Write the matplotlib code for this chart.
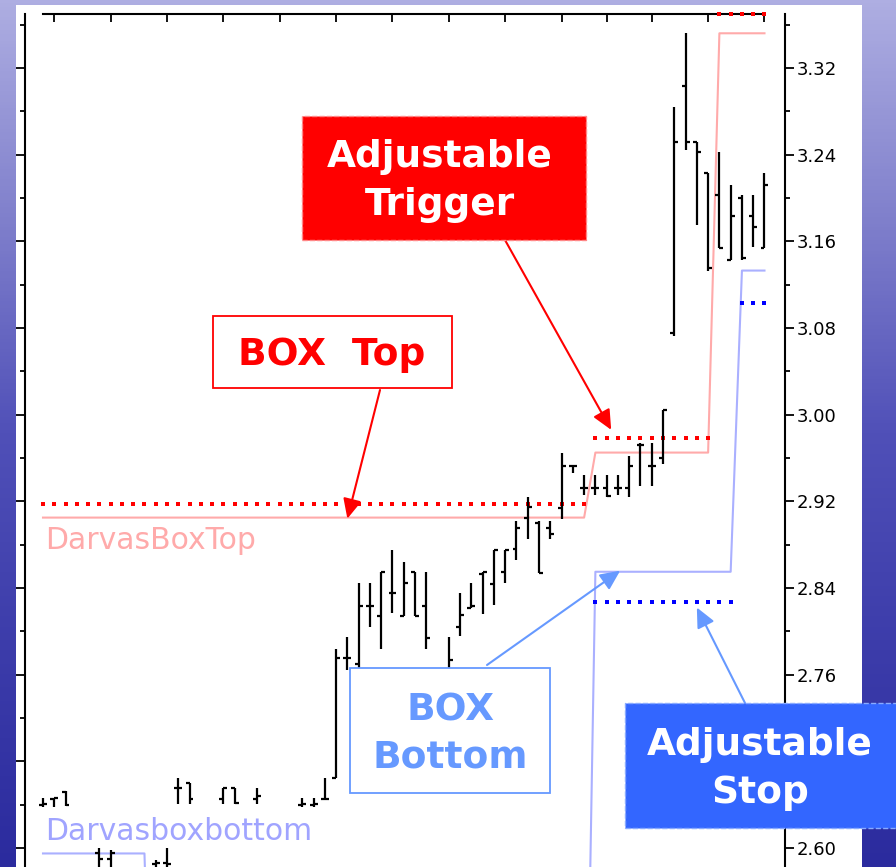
import numpy as np
import matplotlib
matplotlib.use('Agg')
import matplotlib.pyplot as plt
from matplotlib.patches import Rectangle
from matplotlib.colors import LinearSegmentedColormap

W, H = 896, 867

# OHLC bars, one per trading day
opens = [2.640, 2.645, 2.652, 2.570, 2.565, 2.595, 2.590, 2.570, 2.565, 2.570,
         2.585, 2.586, 2.655, 2.660, 2.570, 2.570, 2.645, 2.655, 2.570, 2.645,
         2.570, 2.570, 2.572, 2.640, 2.640, 2.645, 2.665, 2.775, 2.770, 2.823,
         2.814, 2.835, 2.814, 2.855, 2.823, 2.755, 2.750, 2.804, 2.822, 2.853,
         2.844, 2.855, 2.876, 2.905, 2.900, 2.895, 2.914, 2.953, 2.932, 2.932,
         2.932, 2.932, 2.932, 2.972, 2.953, 2.960, 3.075, 3.303, 3.252, 3.223,
         3.203, 3.143, 3.200, 3.183, 3.154]
highs = [2.646, 2.646, 2.653, 2.575, 2.572, 2.600, 2.598, 2.578, 2.575, 2.578,
         2.589, 2.600, 2.665, 2.660, 2.578, 2.575, 2.655, 2.655, 2.578, 2.655,
         2.575, 2.575, 2.578, 2.646, 2.646, 2.665, 2.784, 2.795, 2.845, 2.845,
         2.855, 2.875, 2.864, 2.855, 2.855, 2.762, 2.795, 2.835, 2.845, 2.855,
         2.875, 2.875, 2.902, 2.924, 2.902, 2.902, 2.965, 2.953, 2.944, 2.944,
         2.944, 2.944, 2.962, 2.974, 2.974, 3.004, 3.284, 3.352, 3.252, 3.223,
         3.242, 3.212, 3.203, 3.203, 3.223]
lows = [2.638, 2.638, 2.639, 2.555, 2.550, 2.575, 2.575, 2.560, 2.555, 2.560,
        2.570, 2.570, 2.641, 2.641, 2.560, 2.560, 2.641, 2.641, 2.560, 2.641,
        2.560, 2.560, 2.560, 2.638, 2.638, 2.644, 2.665, 2.764, 2.760, 2.804,
        2.784, 2.817, 2.814, 2.814, 2.784, 2.735, 2.745, 2.796, 2.822, 2.816,
        2.824, 2.845, 2.866, 2.885, 2.854, 2.885, 2.904, 2.946, 2.926, 2.926,
        2.924, 2.926, 2.924, 2.934, 2.934, 2.954, 3.073, 3.244, 3.175, 3.133,
        3.154, 3.143, 3.143, 3.155, 3.154]
closes = [2.641, 2.646, 2.640, 2.560, 2.560, 2.590, 2.595, 2.565, 2.570, 2.572,
          2.586, 2.585, 2.655, 2.645, 2.575, 2.570, 2.655, 2.642, 2.575, 2.648,
          2.570, 2.572, 2.575, 2.641, 2.641, 2.645, 2.775, 2.775, 2.823, 2.823,
          2.855, 2.835, 2.845, 2.814, 2.794, 2.740, 2.774, 2.815, 2.823, 2.855,
          2.875, 2.875, 2.895, 2.915, 2.854, 2.890, 2.953, 2.953, 2.932, 2.932,
          2.925, 2.932, 2.953, 2.972, 2.953, 3.004, 3.252, 3.252, 3.242, 3.135,
          3.154, 3.183, 3.145, 3.173, 3.212]

# Darvas indicator values per bar
box_top = [2.905] * 49 + [2.965] * 11 + [3.352] * 5
box_bottom = [2.595] * 10 + [2.25] * 39 + [2.855] * 13 + [3.133] * 3
trigger = [2.918] * 49 + [2.978] * 11 + [3.370] * 5
stop = [np.nan] * 49 + [2.827] * 13 + [3.103] * 3

y_ticks = [2.60, 2.68, 2.76, 2.84, 2.92, 3.00, 3.08, 3.16, 3.24, 3.32]
y_labels = ['2.60', '', '2.76', '2.84', '2.92', '3.00', '3.08', '3.16', '3.24', '3.32']
y_minor = [2.64, 2.72, 2.80, 2.88, 2.96, 3.04, 3.12, 3.20, 3.28, 3.36]
week_ticks = [1, 6, 11, 16, 21, 26, 31, 36, 41, 46, 50, 54, 59, 64]

idx = np.arange(len(opens))

fig = plt.figure(figsize=(W / 100, H / 100), dpi=100)

# slide background + white chart panel
bg = fig.add_axes([0, 0, 1, 1], zorder=-10)
bg.axis('off')
cmap = LinearSegmentedColormap.from_list(
    'slide', ['#aeaee2', '#8080cc', '#5050b8', '#3c3caa', '#2b2b9e'])
bg.imshow(np.linspace(0, 1, 256).reshape(-1, 1), aspect='auto', cmap=cmap,
          extent=[0, 1, 0, 1])
bg.set_xlim(0, 1)
bg.set_ylim(0, 1)
bg.add_patch(Rectangle((16 / W, 0), (862 - 16) / W, (867 - 5) / H,
                       facecolor='white', edgecolor='none', transform=bg.transAxes))

ax = fig.add_axes([25 / W, 0, (785 - 25) / W, (867 - 14) / H])
ax.set_facecolor('none')
ax.set_xlim(-1.597, 65.82)
ax.set_ylim(2.5825, 3.3698)

# indicator lines
ax.plot(idx, box_top, color='#ffaaaa', lw=1.5, zorder=2)
ax.plot(idx, box_bottom, color='#aab0ff', lw=1.5, zorder=2)
ax.plot(idx, trigger, ls='none', marker='s', ms=2.6, mew=0, color='#ff0000',
        zorder=3, clip_on=False)
ax.plot(idx, stop, ls='none', marker='s', ms=2.6, mew=0, color='#0000ff', zorder=3)

# OHLC bars
ax.vlines(idx, lows, highs, color='black', lw=1.6, zorder=4)
ax.hlines(opens, idx - 0.35, idx, color='black', lw=1.6, zorder=4)
ax.hlines(closes, idx, idx + 0.35, color='black', lw=1.6, zorder=4)

ax.text(0.2, 2.876, 'DarvasBoxTop', color='#ffaaaa', fontsize=21.5, zorder=5)
ax.text(0.2, 2.607, 'Darvasboxbottom', color='#a0a4ff', fontsize=21.5, zorder=5)

# axes styling
for s in ['left', 'right', 'top']:
    ax.spines[s].set_linewidth(1.5)
ax.spines['bottom'].set_visible(False)
ax.spines['top'].set_bounds(0, 64)
ax.xaxis.tick_top()
ax.set_xticks(week_ticks)
ax.tick_params(axis='x', direction='in', length=6, width=1.3, labeltop=False)
ax.set_yticks(y_ticks)
ax.set_yticks(y_minor, minor=True)
ax.set_yticklabels(y_labels)
ax.tick_params(axis='y', which='both', left=True, right=True, labelleft=False,
               labelright=True, direction='out', width=1.3, labelsize=13, pad=2)
ax.tick_params(axis='y', which='major', length=6.2)
ax.tick_params(axis='y', which='minor', length=3.6)


def fig_box(x0, y0, x1, y1, **kw):
    r = Rectangle((x0 / W, 1 - y1 / H), (x1 - x0) / W, (y1 - y0) / H,
                  transform=fig.transFigure, zorder=20, **kw)
    fig.add_artist(r)


def fig_label(x, y, s, color):
    fig.text(x / W, 1 - y / H, s, color=color, fontsize=27, fontweight='bold',
             ha='center', va='center', linespacing=1.42, zorder=21)


def arrow(x0, y0, tip, color):
    ax.annotate('', xy=tip, xycoords='data', xytext=(x0, H - y0),
                textcoords='figure pixels', annotation_clip=False, zorder=6,
                arrowprops=dict(arrowstyle='-|>,head_length=0.6,head_width=0.28',
                                color=color, lw=1.5, shrinkA=0, shrinkB=0,
                                mutation_scale=20))


arrow(380, 390, (27.0, 2.904), '#ff0000')
arrow(505, 240, (50.4, 2.986), '#ff0000')
arrow(487, 665, (51.2, 2.856), '#6699ff')
arrow(745, 703, (58.0, 2.822), '#6699ff')

fig_box(213, 316, 452, 388, facecolor='white', edgecolor='#ff0000', lw=1.3)
fig_label(332, 355, 'BOX  Top', '#ff0000')

fig_box(302, 116, 586, 240, facecolor='#ff0000', edgecolor='#ff8888', lw=1, ls='--')
fig_label(440, 181, 'Adjustable\nTrigger', 'white')

fig_box(350, 668, 550, 793, facecolor='white', edgecolor='#6699ff', lw=1.3)
fig_label(450, 734, 'BOX\nBottom', '#6699ff')

fig_box(625, 703, 905, 828, facecolor='#3366ff', edgecolor='#88aaff', lw=1, ls='--')
fig_label(760, 769, 'Adjustable\nStop', 'white')

fig.savefig('out.png', dpi=100)
